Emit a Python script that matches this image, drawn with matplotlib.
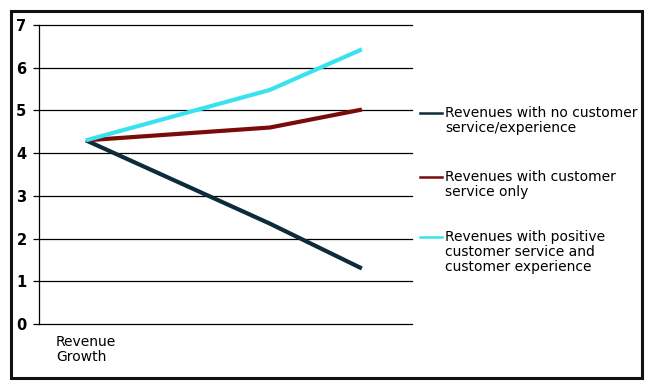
#!/usr/bin/env python3
"""Revenue growth by customer service / experience level - line chart."""
import matplotlib
matplotlib.use("Agg")
import matplotlib.pyplot as plt
from matplotlib.lines import Line2D
from matplotlib.patches import Rectangle

# data
x_pos = [0, 2, 3]
tick_labels = ["Revenue\nGrowth"]
no_service = [4.3, 2.35, 1.3]
service_only = [4.3, 4.6, 5.02]
positive_both = [4.3, 5.48, 6.43]

series_names = [
    "Revenues with no customer\nservice/experience",
    "Revenues with customer\nservice only",
    "Revenues with positive\ncustomer service and\ncustomer experience",
]
series_values = [no_service, service_only, positive_both]
series_colors = ["#0c2b3c", "#7a0b0b", "#38e3ef"]

W, H = 652, 388
fig = plt.figure(figsize=(W / 100, H / 100), dpi=100)
fig.patch.set_facecolor("white")


def px(x0, y0, x1, y1):
    # pixel box (top-left origin) -> figure fraction rect
    return [x0 / W, 1 - y1 / H, (x1 - x0) / W, (y1 - y0) / H]


ax = fig.add_axes(px(39, 25, 412, 324))

for vals, c in zip(series_values, series_colors):
    ax.plot(x_pos, vals, color=c, lw=3.0, solid_capstyle="butt", zorder=3)

ax.set_xlim(-0.51, 3.545)
ax.set_ylim(0, 7)
ax.set_yticks(range(0, 8))
ax.grid(axis="y", color="black", lw=0.9)
for gl in ax.get_ygridlines():
    gl.set_clip_on(False)
ax.set_axisbelow(True)
for s in ["top", "right", "bottom"]:
    ax.spines[s].set_visible(False)
ax.spines["left"].set_linewidth(0.9)
ax.tick_params(axis="y", length=4, width=0.9, pad=5, labelsize=10.5)
for lab in ax.get_yticklabels():
    lab.set_fontweight("bold")
ax.set_xticks([x_pos[0]])
ax.set_xticklabels(tick_labels, fontsize=10, ha="center", multialignment="left",
                   linespacing=1.05)
ax.tick_params(axis="x", length=0, pad=8)

# legend, drawn by hand so the handle sits on the first text line
legend_tops = [106, 170, 230]
for name, c, top in zip(series_names, series_colors, legend_tops):
    fig.add_artist(Line2D([420 / W, 442 / W], [1 - (top + 7) / H] * 2,
                          color=c, lw=1.8, transform=fig.transFigure))
    fig.text(445 / W, 1 - top / H, name, fontsize=10, va="top", ha="left",
             linespacing=1.1)

# outer frame
fig.add_artist(Rectangle((10.5 / W, 10.5 / H), (W - 21) / W, (H - 21) / H,
                         transform=fig.transFigure, fill=False,
                         edgecolor="#111111", lw=2.2))

fig.savefig("out.png", dpi=100)
